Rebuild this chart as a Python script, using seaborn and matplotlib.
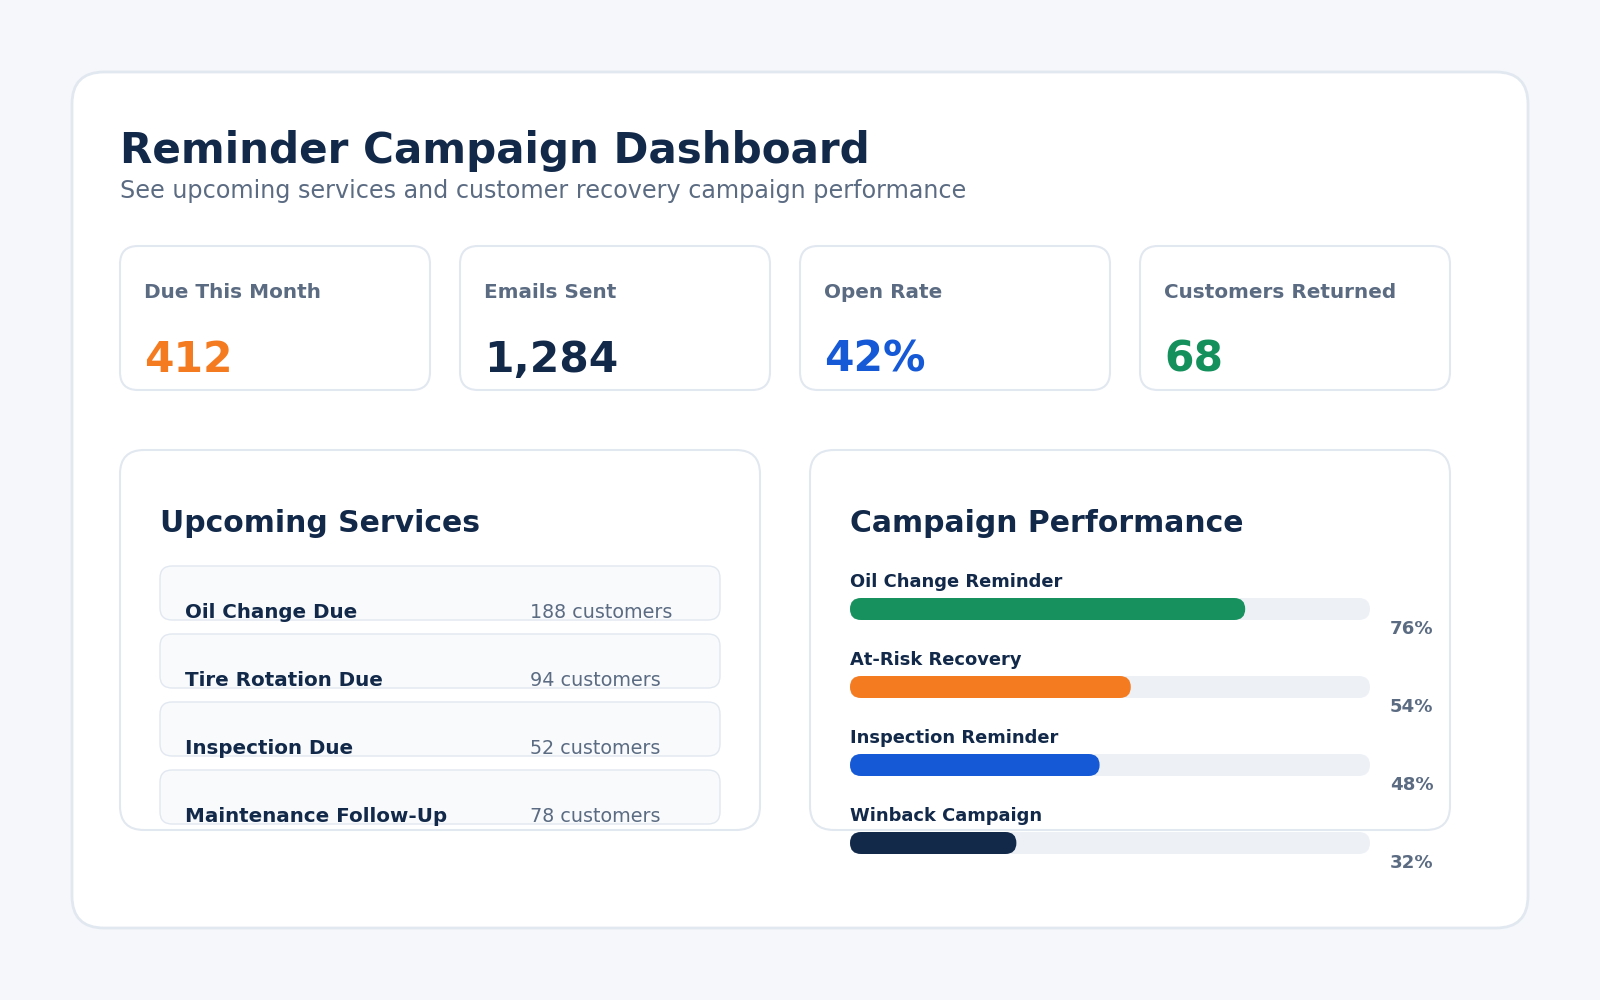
import matplotlib
matplotlib.use("Agg")
import matplotlib.pyplot as plt
from matplotlib.patches import FancyBboxPatch
import seaborn as sns
import pandas as pd

# ---------------- data ----------------
TITLE = "Reminder Campaign Dashboard"
SUBTITLE = "See upcoming services and customer recovery campaign performance"

kpi_labels = ["Due This Month", "Emails Sent", "Open Rate", "Customers Returned"]
kpi_values = ["412", "1,284", "42%", "68"]
kpi_colors = ["#f47b20", "#12294a", "#1559d6", "#14905c"]

services_title = "Upcoming Services"
service_names = ["Oil Change Due", "Tire Rotation Due", "Inspection Due", "Maintenance Follow-Up"]
service_counts = [188, 94, 52, 78]

campaign_title = "Campaign Performance"
campaign_names = ["Oil Change Reminder", "At-Risk Recovery", "Inspection Reminder", "Winback Campaign"]
campaign_rates = [76, 54, 48, 32]
campaign_colors = ["#17925e", "#f47b20", "#1559d6", "#12294a"]

# ---------------- style ----------------
sns.set_theme(style="white")
plt.rcParams['font.family'] = ['DejaVu Sans']

BG = "#f5f7fb"
BORDER = "#e2e8f0"
NAVY = "#12294a"
MUTED = "#5b6b82"
TRACK = "#edf1f6"
ROWFILL = "#f8fafc"

W, H = 1600, 1000
fig = plt.figure(figsize=(16, 10), dpi=100, facecolor=BG)
bg = fig.add_axes([0, 0, 1, 1])
bg.set_xlim(0, W)
bg.set_ylim(H, 0)
bg.axis('off')
bg.set_facecolor(BG)


def rbox(ax, x, y, w, h, r, fc, ec, lw=1.5, z=1):
    p = FancyBboxPatch((x, y), w, h, boxstyle=f"round,pad=0,rounding_size={r}",
                       fc=fc, ec=ec, lw=lw, zorder=z)
    ax.add_patch(p)
    return p


# outer card
rbox(bg, 72, 72, 1456, 856, 32, "white", BORDER, lw=2.0, z=1)

# header
bg.text(120, 163, TITLE, fontsize=30.3, fontweight='bold', color=NAVY, va='baseline', zorder=5)
bg.text(120, 198, SUBTITLE, fontsize=17.2, color=MUTED, va='baseline', zorder=5)

# KPI cards
for i, (lab, val, col) in enumerate(zip(kpi_labels, kpi_values, kpi_colors)):
    x0 = 120 + 340 * i
    rbox(bg, x0, 246, 310, 144, 18, "white", BORDER, lw=1.5, z=2)
    bg.text(x0 + 24, 298, lab, fontsize=14.4, fontweight='bold', color=MUTED, va='baseline', zorder=5)
    bg.text(x0 + 24, 372, val, fontsize=30.5, fontweight='bold', color=col, va='baseline', zorder=5)

# panels
rbox(bg, 120, 450, 640, 380, 24, "white", BORDER, lw=1.5, z=2)
rbox(bg, 810, 450, 640, 380, 24, "white", BORDER, lw=1.5, z=2)
bg.text(160, 532, services_title, fontsize=21.5, fontweight='bold', color=NAVY, va='baseline', zorder=5)
bg.text(850, 532, campaign_title, fontsize=21.5, fontweight='bold', color=NAVY, va='baseline', zorder=5)

# upcoming services rows
for i, (name, cnt) in enumerate(zip(service_names, service_counts)):
    top = 566 + 68 * i
    rbox(bg, 160, top, 560, 54, 12, ROWFILL, BORDER, lw=1.0, z=3)
    bg.text(185, top + 52, name, fontsize=14.3, fontweight='bold', color=NAVY, va='baseline', zorder=5)
    bg.text(530, top + 52, f"{cnt} customers", fontsize=13.8, color=MUTED, va='baseline', zorder=5)

# campaign labels and percents
for i, (name, rate) in enumerate(zip(campaign_names, campaign_rates)):
    bg.text(850, 587 + 78 * i, name, fontsize=12.9, fontweight='bold', color=NAVY, va='baseline', zorder=5)
    bg.text(1390, 634 + 78 * i, f"{rate}%", fontsize=13.1, fontweight='bold', color=MUTED, va='baseline', zorder=5)

# campaign bars via seaborn
PITCH = 78
TRACK_L, TRACK_W = 850, 520
AX_TOP = 609 - PITCH / 2
bar_ax = fig.add_axes([TRACK_L / W, 1 - (AX_TOP + 4 * PITCH) / H, TRACK_W / W, 4 * PITCH / H])
bar_ax.patch.set_alpha(0)

df = pd.DataFrame({"name": campaign_names, "rate": campaign_rates, "full": [100] * len(campaign_names)})
BAR_H = 22 / PITCH
sns.barplot(data=df, x="full", y="name", orient="h", color=TRACK, width=BAR_H,
            saturation=1, ax=bar_ax)
sns.barplot(data=df, x="rate", y="name", hue="name", palette=campaign_colors, orient="h",
            width=BAR_H, saturation=1, legend=False, ax=bar_ax)
bar_ax.set_xlim(0, 100)
bar_ax.set_ylim(3.5, -0.5)
bar_ax.axis('off')

px_per_x = TRACK_W / 100.0
px_per_y = PITCH
m_aspect = (1 / px_per_y) / (1 / px_per_x)
rsize = 11 / px_per_x
bars = list(bar_ax.patches)
for b in bars:
    x, y, w, h = b.get_x(), b.get_y(), b.get_width(), b.get_height()
    fc = b.get_facecolor()
    z = b.get_zorder()
    b.remove()
    bar_ax.add_patch(FancyBboxPatch((x, y), w, h,
                                    boxstyle=f"round,pad=0,rounding_size={rsize}",
                                    mutation_aspect=m_aspect, fc=fc, ec="none", lw=0,
                                    zorder=z))

fig.savefig("out.png", dpi=100, facecolor=BG)
